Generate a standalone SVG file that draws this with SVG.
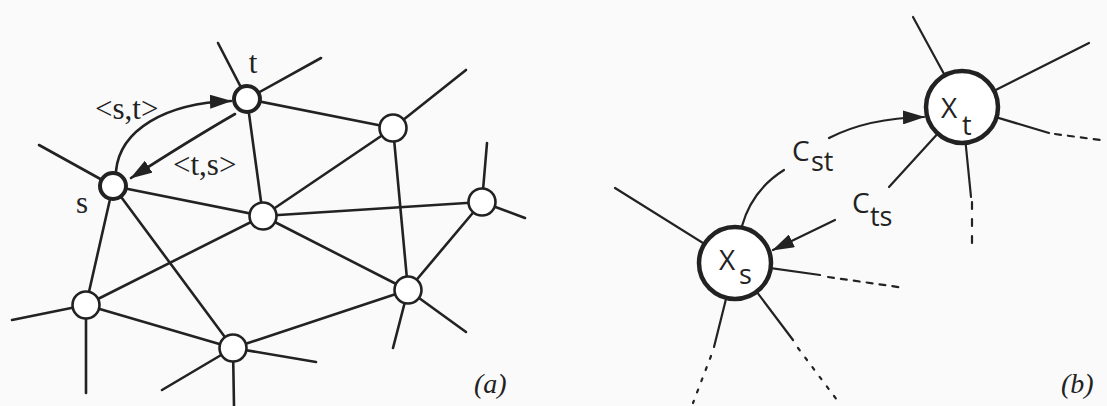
<svg xmlns="http://www.w3.org/2000/svg" width="1107" height="406" viewBox="0 0 1107 406">
<style>
.e{stroke:#222;stroke-width:2.6;fill:none;stroke-linecap:round}
.eb{stroke:#222;stroke-width:2.2;fill:none;stroke-linecap:round}
.n{fill:#fff;stroke:#222;stroke-width:2.6}
.nk{fill:#fff;stroke:#222;stroke-width:4}
.nb{fill:#fff;stroke:#222;stroke-width:4.5}
.sf{font-family:"Liberation Serif","DejaVu Serif",serif;font-size:31px;fill:#222}
.it{font-family:"Liberation Serif","DejaVu Serif",serif;font-style:italic;font-size:28px;fill:#222}
.ss{font-family:"Open Sans","DejaVu Sans",sans-serif;fill:#222}
.big{font-size:28px}
.sub{font-size:27px}
.dash{stroke-dasharray:6 7}
.dot{stroke-dasharray:3 9}
</style>
<defs>
<marker id="ah" markerUnits="userSpaceOnUse" markerWidth="22" markerHeight="14" refX="21" refY="7" orient="auto">
<path d="M0,0 L22,7 L0,14 z" fill="#222"/>
</marker>
</defs>
<rect width="1107" height="406" fill="#fafafa"/>
<g id="connectors">
<line class="e" x1="247" y1="99" x2="393" y2="128"/>
<line class="e" x1="247" y1="99" x2="263" y2="216"/>
<line class="e" x1="113" y1="186" x2="263" y2="216"/>
<line class="e" x1="113" y1="186" x2="86" y2="305"/>
<line class="e" x1="113" y1="186" x2="233" y2="348"/>
<line class="e" x1="86" y1="305" x2="263" y2="216"/>
<line class="e" x1="86" y1="305" x2="233" y2="348"/>
<line class="e" x1="233" y1="348" x2="408" y2="290"/>
<line class="e" x1="263" y1="216" x2="393" y2="128"/>
<line class="e" x1="263" y1="216" x2="482" y2="202"/>
<line class="e" x1="263" y1="216" x2="408" y2="290"/>
<line class="e" x1="393" y1="128" x2="408" y2="290"/>
<line class="e" x1="482" y1="202" x2="408" y2="290"/>
<line class="e" x1="247" y1="99" x2="218" y2="43"/>
<line class="e" x1="247" y1="99" x2="321" y2="58"/>
<line class="e" x1="393" y1="128" x2="466" y2="70"/>
<line class="e" x1="482" y1="202" x2="487" y2="143"/>
<line class="e" x1="482" y1="202" x2="525" y2="218"/>
<line class="e" x1="408" y1="290" x2="393" y2="348"/>
<line class="e" x1="408" y1="290" x2="466" y2="332"/>
<line class="e" x1="233" y1="348" x2="316" y2="362"/>
<line class="e" x1="233" y1="348" x2="162" y2="390"/>
<line class="e" x1="233" y1="348" x2="234" y2="406"/>
<line class="e" x1="86" y1="305" x2="12" y2="320"/>
<line class="e" x1="86" y1="305" x2="86" y2="393"/>
<line class="e" x1="113" y1="186" x2="39" y2="145"/>
<path class="e" d="M116,171 C120,130 165,103 231,101" marker-end="url(#ah)"/>
<path class="e" d="M235,114 Q190,140 131,178" marker-end="url(#ah)"/>
<line class="eb" x1="962" y1="107" x2="913" y2="17"/>
<line class="eb" x1="962" y1="107" x2="1089" y2="43"/>
<line class="eb" x1="962" y1="107" x2="1049" y2="133"/>
<line class="eb dash" x1="1055" y1="134" x2="1100" y2="140"/>
<line class="eb" x1="962" y1="107" x2="971" y2="197"/>
<line class="eb" x1="972" y1="202" x2="972" y2="245" style="stroke-dasharray:7 10"/>
<line class="eb" x1="962" y1="107" x2="889" y2="187"/>
<line class="eb" x1="735" y1="263" x2="615" y2="188"/>
<line class="eb" x1="735" y1="263" x2="820" y2="275"/>
<line class="eb dash" x1="828" y1="277" x2="905" y2="288"/>
<line class="eb" x1="735" y1="263" x2="714" y2="347"/>
<line class="eb dot" x1="711" y1="356" x2="693" y2="403"/>
<line class="eb" x1="735" y1="263" x2="793" y2="340"/>
<line class="eb dot" x1="798" y1="348" x2="837" y2="400"/>
<path class="eb" d="M742,226 Q752,190 784,170"/>
<path class="eb" d="M829,138 Q868,118 924,117" marker-end="url(#ah)"/>
<path class="eb" d="M835,220 L773,250" marker-end="url(#ah)"/>
</g>
<g id="node-t"><circle class="nk" cx="247" cy="99" r="13"/><text class="sf" x="253" y="73" text-anchor="middle">t</text></g>
<g id="node-s"><circle class="nk" cx="113" cy="186" r="13"/><text class="sf" x="82" y="213" text-anchor="middle">s</text></g>
<g id="node-a"><circle class="n" cx="393" cy="128" r="13.5"/></g>
<g id="node-c"><circle class="n" cx="263" cy="216" r="13.5"/></g>
<g id="node-r"><circle class="n" cx="482" cy="202" r="13.5"/></g>
<g id="node-br"><circle class="n" cx="408" cy="290" r="13.5"/></g>
<g id="node-bl"><circle class="n" cx="86" cy="305" r="13.5"/></g>
<g id="node-b"><circle class="n" cx="233" cy="348" r="13.5"/></g>
<g id="labels-a">
<text class="sf" x="95" y="119">&lt;s,t&gt;</text>
<text class="sf" x="173" y="175">&lt;t,s&gt;</text>
<text class="it" x="474" y="393">(a)</text>
</g>
<g id="node-xt"><circle class="nb" cx="962" cy="107" r="36"/><text class="ss big" x="941" y="118">X<tspan class="sub" x="962" y="135">t</tspan></text></g>
<g id="node-xs"><circle class="nb" cx="735" cy="263" r="36"/><text class="ss big" x="719" y="270">X<tspan class="sub" x="739" y="284">s</tspan></text></g>
<g id="labels-b">
<text class="ss big" x="792" y="161">C<tspan class="sub" x="811" y="171">st</tspan></text>
<text class="ss big" x="852" y="213">C<tspan class="sub" x="870" y="226">ts</tspan></text>
<text class="it" x="1061" y="393">(b)</text>
</g>
</svg>
